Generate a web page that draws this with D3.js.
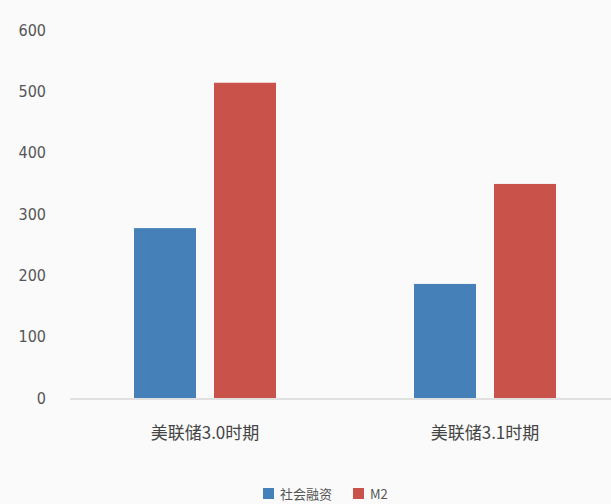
<!DOCTYPE html>
<html><head><meta charset="utf-8">
<script src="https://cdn.jsdelivr.net/npm/d3@7"></script>
<style>body{margin:0;background:#fafafa;}svg{display:block;}</style>
</head><body>
<svg id="c" width="611" height="504"></svg>
<script>
const categories = ["美联储3.0时期", "美联储3.1时期"];
const seriesNames = ["社会融资", "M2"];
const seriesA = [277, 186];
const seriesB = [514, 349];
const yTicks = [0, 100, 200, 300, 400, 500, 600];
const colors = ["#4680b8", "#c9524a"];

const svg = d3.select("#c");
const W = 611, H = 504;
const y = d3.scaleLinear().domain([0, 600]).range([398, 30]);
const x0 = d3.scaleBand().domain(categories).range([65, 625]).paddingInner(0).paddingOuter(0);
const x1 = d3.scaleBand().domain(seriesNames).range([0, x0.bandwidth()]).paddingInner(0.225).paddingOuter(0.8625);

// y axis labels
const yAxis = d3.axisLeft(y).tickValues(yTicks).tickSize(0).tickPadding(0);
const gy = svg.append("g").attr("transform", "translate(46,0)").call(yAxis);
gy.select(".domain").remove();
gy.selectAll("text").attr("font-family", "Liberation Sans Narrow, DejaVu Sans Condensed, sans-serif")
  .attr("font-size", 16).attr("fill", "#555");

// baseline
svg.append("line").attr("x1", 70).attr("x2", W).attr("y1", y(0)+1).attr("y2", y(0)+1)
  .attr("stroke", "#d9d9d9").attr("stroke-width", 1.5);

const data = categories.map((c, i) => ({c, vals: [seriesA[i], seriesB[i]]}));
const g = svg.append("g");
data.forEach(d => {
  d.vals.forEach((v, j) => {
    g.append("rect")
      .attr("x", x0(d.c) + x1(seriesNames[j]))
      .attr("width", x1.bandwidth())
      .attr("y", y(v))
      .attr("height", y(0) - y(v))
      .attr("fill", colors[j]);
  });
});

// x labels
const xAxis = d3.axisBottom(x0).tickSize(0).tickPadding(0);
const gx = svg.append("g").attr("transform", "translate(0,427)").call(xAxis);
gx.select(".domain").remove();
gx.selectAll("text").attr("font-family", "Noto Sans CJK SC, sans-serif").attr("font-size", 17)
  .attr("fill", "#444").attr("dy", "0.71em");

// legend
const leg = svg.append("g").attr("transform", "translate(263,488)");
const legX = [0, 90];
seriesNames.forEach((n, j) => {
  leg.append("rect").attr("x", legX[j]).attr("y", 0).attr("width", 11).attr("height", 11).attr("fill", colors[j]);
  leg.append("text").attr("x", legX[j] + 17).attr("y", 6).attr("dy", "0.35em")
    .attr("font-family", "Noto Sans CJK SC, sans-serif").attr("font-size", 13).attr("fill", "#555").text(n);
});
</script>
</body></html>
